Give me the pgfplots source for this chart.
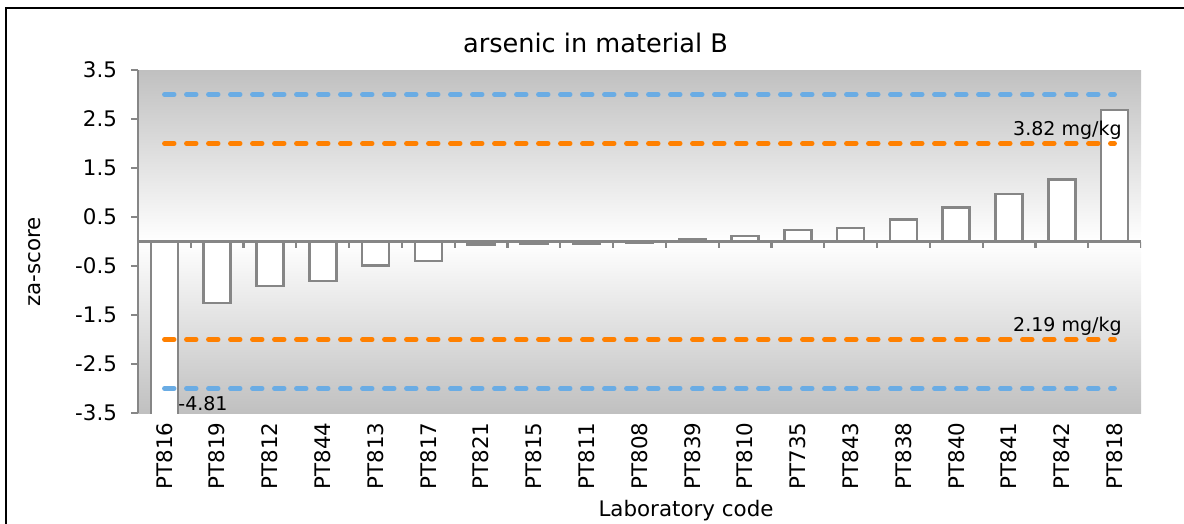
\documentclass[border=0pt]{standalone}
\usepackage{fontspec}
\setmainfont{DejaVu Sans}
\usepackage{pgfplots}
\pgfplotsset{compat=1.18}
\definecolor{barG}{RGB}{134,134,134}
\definecolor{bgG}{RGB}{192,192,192}
\definecolor{zOr}{RGB}{255,128,0}
\definecolor{zBl}{RGB}{106,172,228}
\begin{document}
\begin{tikzpicture}
\useasboundingbox (0pt,-262pt) rectangle (592pt,0pt);
\begin{scope}
\clip (0pt,-262pt) rectangle (592pt,0pt);
\draw[line width=1pt] (3pt,-300pt) -- (3pt,-4pt) -- (700pt,-4pt);
\end{scope}
\begin{axis}[
  at={(69pt,-206.5pt)}, anchor=south west,
  scale only axis, width=501.5pt, height=171.5pt,
  xmin=-0.5, xmax=18.5, ymin=-3.5, ymax=3.5,
  axis y line*=left, axis x line*=bottom,
  x axis line style={draw=none},
  y axis line style={draw=barG, line width=1.1pt},
  xtick={0,...,18},
  xticklabels={PT816,PT819,PT812,PT844,PT813,PT817,PT821,PT815,PT811,PT808,PT839,PT810,PT735,PT843,PT838,PT840,PT841,PT842,PT818},
  xtick style={draw=none},
  ytick={-3.5,-2.5,-1.5,-0.5,0.5,1.5,2.5,3.5},
  yticklabels={-3.5,-2.5,-1.5,-0.5,0.5,1.5,2.5,3.5},
  ytick style={draw=barG, line width=1.1pt},
  tick align=outside, major tick length=3.5pt,
  axis background/.style={shade, top color=bgG, bottom color=bgG, middle color=white},
  xticklabel style={rotate=90, anchor=east, inner sep=1pt, font=\fontsize{10.7}{12}\selectfont},
  yticklabel style={xshift=-3.5pt, font=\fontsize{10.7}{12}\selectfont},
]
\addplot[ybar, bar width=13.5pt, fill=white, draw=barG, line width=1.25pt] coordinates {
 (0,-4.81) (1,-1.26) (2,-0.91) (3,-0.81) (4,-0.49) (5,-0.40) (6,-0.06) (7,-0.04) (8,-0.04) (9,-0.02)
 (10,0.05) (11,0.11) (12,0.23) (13,0.28) (14,0.45) (15,0.69) (16,0.97) (17,1.27) (18,2.68)};
\draw[barG, line width=1.1pt] (axis cs:-0.5,0) -- (axis cs:18.5,0);
\pgfplotsinvokeforeach{-0.5,0.5,...,18.5}{
  \draw[barG, line width=1.1pt] (axis cs:#1,0) -- ++(0pt,-3.4pt);
}
\addplot[zBl, line width=2.3pt, line cap=round, dash pattern=on 4.9pt off 6.1pt, no markers] coordinates {(0,3) (18,3)};
\addplot[zOr, line width=2.3pt, line cap=round, dash pattern=on 4.9pt off 6.1pt, no markers] coordinates {(0,2) (18,2)};
\addplot[zOr, line width=2.3pt, line cap=round, dash pattern=on 4.9pt off 6.1pt, no markers] coordinates {(0,-2) (18,-2)};
\addplot[zBl, line width=2.3pt, line cap=round, dash pattern=on 4.9pt off 6.1pt, no markers] coordinates {(0,-3) (18,-3)};
\node[anchor=base east, inner sep=0pt, font=\fontsize{9.5}{11}\selectfont] at (axis cs:18.14,2.17) {3.82 mg/kg};
\node[anchor=base east, inner sep=0pt, font=\fontsize{9.5}{11}\selectfont] at (axis cs:18.14,-1.83) {2.19 mg/kg};
\node[anchor=base west, inner sep=0pt, font=\fontsize{9.5}{11}\selectfont] at (axis cs:0.258,-3.44) {-4.81};
\end{axis}
\node[anchor=base, font=\fontsize{12.8}{15}\selectfont] at (297.75pt,-26.5pt) {arsenic in material B};
\node[rotate=90, font=\fontsize{10.7}{12}\selectfont] at (17.5pt,-131pt) {za-score};
\node[anchor=base, font=\fontsize{10.7}{12}\selectfont] at (343pt,-258pt) {Laboratory code};
\end{tikzpicture}
\end{document}
